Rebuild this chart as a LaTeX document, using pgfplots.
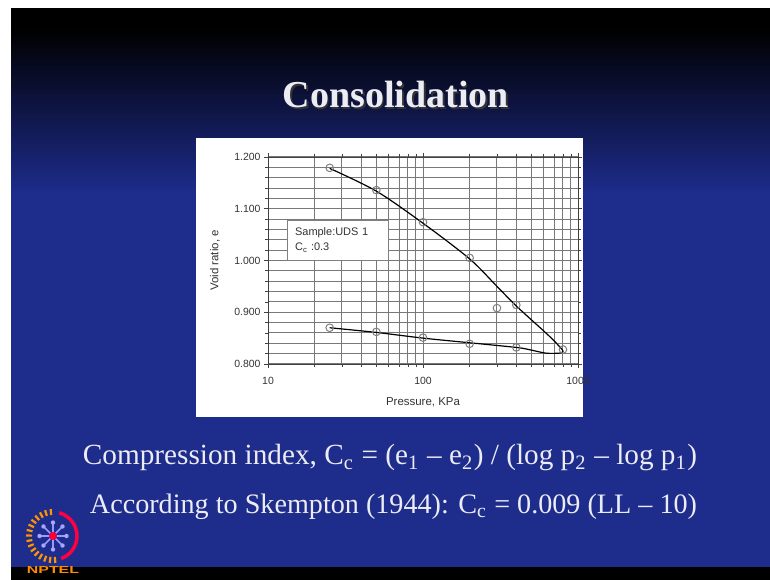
\documentclass[border=0pt]{standalone}
\usepackage{pgfplots}
\pgfplotsset{compat=1.18}
\usepackage{fontspec}
\setmainfont{Liberation Serif}
\newfontfamily\arial{Liberation Sans}
\usepackage{graphicx}
\definecolor{slideblue}{RGB}{30,44,140}
\definecolor{gridgray}{RGB}{120,120,120}
\definecolor{slidetext}{RGB}{236,236,244}
\begin{document}
\begin{tikzpicture}
\begin{scope}[x=1bp,y=1bp]
% page
\fill[white] (0,0) rectangle (770,580);
% slide background
\fill[slideblue] (11,13) rectangle (770,572);
\foreach \yy in {8,10,...,200} {
  \pgfmathtruncatemacro\p{max(0,min(100,(\yy-28)/1.65))}
  \fill[slideblue!\p!black] (11,580-\yy) rectangle (770,580-\yy-2.6);
}
\fill[black] (11,0) rectangle (770,13);
% title
\node[text=black!80] at (397.5,483.5) {\resizebox{226bp}{!}{\bfseries Consolidation}};
\node[text=slidetext] at (396,485) {\resizebox{226bp}{!}{\bfseries Consolidation}};
% chart panel
\fill[white] (196,163) rectangle (583,442);
% bottom texts
\node[text=slidetext] at (390,122) {\resizebox{614bp}{!}{Compression index, C\textsubscript{c} = (e\textsubscript{1} – e\textsubscript{2})\ /\ (log p\textsubscript{2} – log p\textsubscript{1})}};
\node[text=slidetext] at (393.5,73) {\resizebox{607bp}{!}{According to Skempton (1944): C\textsubscript{c} = 0.009 (LL – 10)}};
% NPTEL logo
\begin{scope}[shift={(53,44)}]
  \foreach \a in {95,107,...,275} {
    \draw[orange!85!yellow, line width=2.2bp] (\a:21) -- (\a:27);
  }
  \draw[red!75!magenta, line width=3.5bp] (-70:24) arc (-70:75:24);
  \foreach \a in {0,45,...,315} {
    \draw[blue!40!white, line width=1.6bp] (0,0) -- (\a:12);
    \fill[blue!35!white] (\a:13.5) circle (2.2);
  }
  \fill[red!80!magenta] (0,0) circle (4);
\end{scope}
\node[text=orange!90!yellow] at (53,10) {\resizebox{52bp}{7bp}{\arial\bfseries NPTEL}};
\end{scope}
\begin{axis}[
  at={(268bp,216bp)}, anchor=south west,
  scale only axis, width=310bp, height=207bp,
  xmode=log, xmin=10, xmax=1000,
  ymin=0.8, ymax=1.2,
  xtick={10,100,1000},
  log ticks with fixed point,
  /pgf/number format/1000 sep={},
  ytick={0.8,0.9,1.0,1.1,1.2},
  minor y tick num=4,
  grid=both,
  major grid style={gridgray, line width=1pt},
  minor grid style={gridgray, line width=1pt},
  axis line style={black!75, line width=0.8pt},
  tick style={black!75, line width=0.7pt},
  tick align=outside,
  major tick length=4bp, minor tick length=3bp,
  /pgf/number format/assume math mode=true,
  yticklabel style={/pgf/number format/.cd, fixed, fixed zerofill, precision=3},
  tick label style={font=\arial\fontsize{10.5}{12}\selectfont, text=black!80},
  xticklabel style={yshift=-6bp},
  xlabel={Pressure, KPa}, ylabel={Void ratio, e},
  label style={font=\arial\fontsize{11.5}{13}\selectfont, text=black!80},
  xlabel style={at={(rel axis cs:0.5,0)}, anchor=center, yshift=-38bp},
  ylabel style={at={(rel axis cs:0,0.5)}, anchor=center, yshift=53bp},
  clip=false,
]
\addplot[black, line width=1.2pt, smooth, tension=0.5] coordinates {
  (25,1.178) (50,1.134) (100,1.072) (200,1.003) (300,0.950) (400,0.912)
  (600,0.864) (700,0.845) (790,0.828)
};
\addplot[black, line width=1.2pt, smooth, tension=0.5] coordinates {
  (790,0.828) (800,0.824) (760,0.821) (620,0.821) (480,0.828) (400,0.832)
  (200,0.841) (100,0.850) (50,0.861) (25,0.870)
};
\addplot[only marks, mark=o, mark size=3.8bp, black!50, line width=1pt] coordinates {
  (25,1.179) (50,1.136) (100,1.074) (200,1.005) (300,0.908) (400,0.914) (800,0.828)
  (25,0.870) (50,0.862) (100,0.851) (200,0.839) (400,0.832)
};
\node[draw=black!50, fill=white, anchor=north west, align=left,
  font=\arial\fontsize{11}{15}\selectfont, text=black!80,
  minimum width=101bp, minimum height=40bp, inner xsep=8bp, text width=85bp]
  at (rel axis cs:0.061,0.696) {Sample:UDS 1\\C\textsubscript{c} :0.3};
\end{axis}
\end{tikzpicture}
\end{document}
